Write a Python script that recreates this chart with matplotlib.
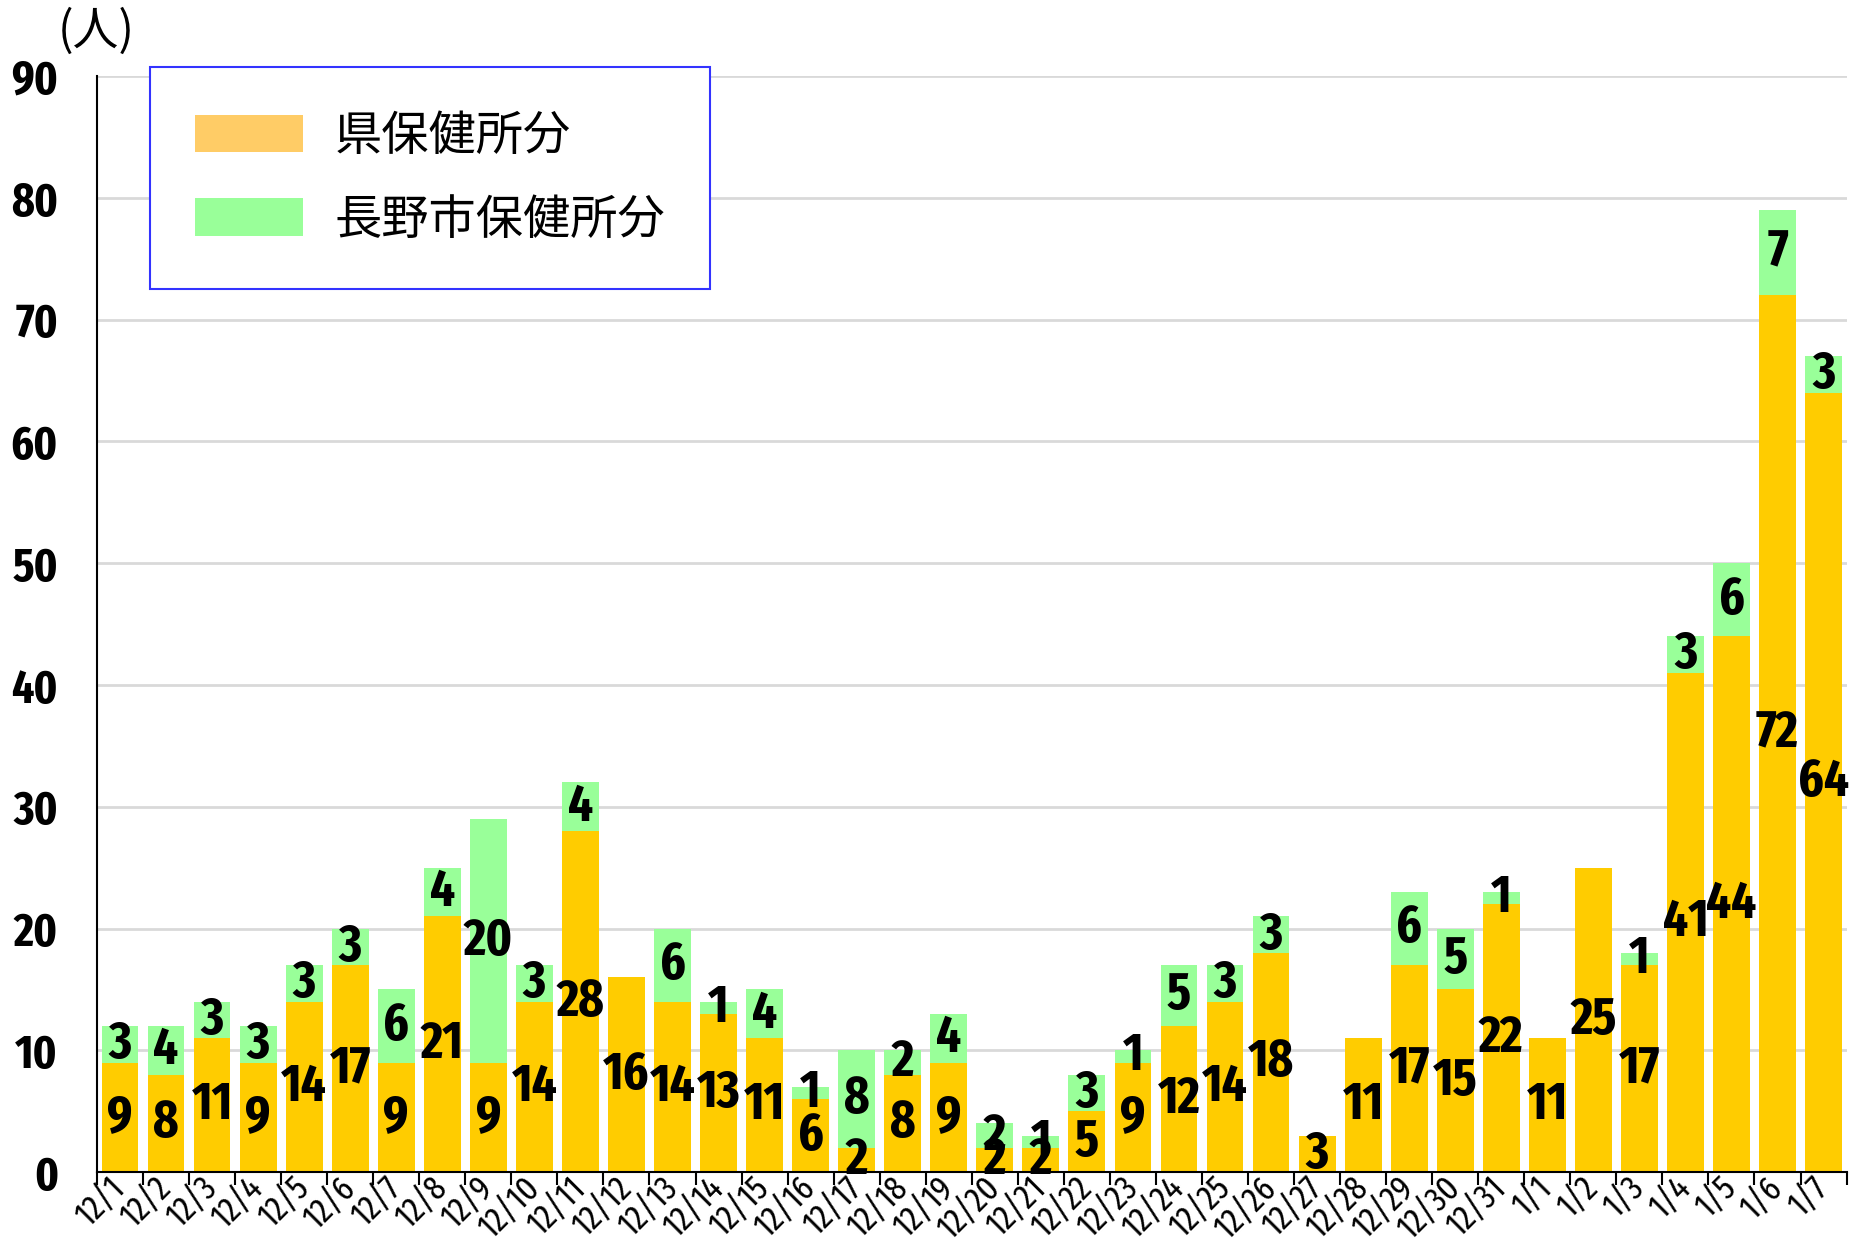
import numpy as np
import matplotlib
matplotlib.use("Agg")
import matplotlib.pyplot as plt
from matplotlib.patches import Patch

# ---------------------------------------------------------------
# data
# ---------------------------------------------------------------
dates = ['12/1', '12/2', '12/3', '12/4', '12/5', '12/6', '12/7', '12/8', '12/9',
         '12/10', '12/11', '12/12', '12/13', '12/14', '12/15', '12/16', '12/17',
         '12/18', '12/19', '12/20', '12/21', '12/22', '12/23', '12/24', '12/25',
         '12/26', '12/27', '12/28', '12/29', '12/30', '12/31',
         '1/1', '1/2', '1/3', '1/4', '1/5', '1/6', '1/7']
pref = [9, 8, 11, 9, 14, 17, 9, 21, 9, 14, 28, 16, 14, 13, 11, 6, 2, 8, 9, 2, 2,
        5, 9, 12, 14, 18, 3, 11, 17, 15, 22, 11, 25, 17, 41, 44, 72, 64]
nagano = [3, 4, 3, 3, 3, 3, 6, 4, 20, 3, 4, 0, 6, 1, 4, 1, 8, 2, 4, 2, 1,
          3, 1, 5, 3, 3, 0, 0, 6, 5, 1, 0, 0, 1, 3, 6, 7, 3]
legend_labels = ['県保健所分', '長野市保健所分']
y_ticks = [0, 10, 20, 30, 40, 50, 60, 70, 80, 90]

YELLOW = '#FFCC00'
GREEN = '#99FF99'
LEG_ORANGE = '#FFCC66'

NUM_FONT = ['Fira Sans Extra Condensed', 'Barlow Condensed', 'DejaVu Sans']
JP_FONT = ['Noto Sans CJK JP', 'DejaVu Sans']

fig = plt.figure(figsize=(18.54, 12.47), dpi=100)
ax = fig.add_axes([0.0523, 0.060, 0.9437, 0.879])

x = np.arange(len(dates))
pref_a = np.array(pref)
nag_a = np.array(nagano)
ax.bar(x, pref_a, width=0.8, color=YELLOW, zorder=2)
ax.bar(x, nag_a, width=0.8, bottom=pref_a, color=GREEN, zorder=2)

# value labels centred in each segment
for xi, p, n in zip(x, pref_a, nag_a):
    if p > 0:
        ax.text(xi, p / 2, str(p), ha='center', va='center', fontsize=38,
                family=NUM_FONT, fontweight='bold', fontstretch='condensed',
                zorder=3)
    if n > 0:
        ax.text(xi, p + n / 2, str(n), ha='center', va='center', fontsize=38,
                family=NUM_FONT, fontweight='bold', fontstretch='condensed',
                zorder=3)

ax.set_xlim(-0.5, len(dates) - 0.5)
ax.set_ylim(0, 90)
ax.set_yticks(y_ticks)
ax.set_yticklabels([str(v) for v in y_ticks], family=NUM_FONT,
                   fontweight='bold', fontstretch='condensed', fontsize=34)
ax.tick_params(axis='y', length=0, pad=28)
ax.grid(axis='y', color='#D9D9D9', linewidth=2, zorder=0)

# ticks at category boundaries, labels at centres
ax.set_xticks(np.arange(-0.5, len(dates)), minor=False)
ax.set_xticklabels([])
ax.tick_params(axis='x', which='major', length=9, width=1.5, direction='out')
ax.set_xticks(x, minor=True)
ax.set_xticklabels(dates, minor=True, rotation=45, ha='right', va='center',
                   rotation_mode='anchor', family=NUM_FONT,
                   fontstretch='condensed', fontsize=25)
ax.tick_params(axis='x', which='minor', length=0, pad=8)

for s in ['top', 'right']:
    ax.spines[s].set_visible(False)
ax.spines['left'].set_linewidth(1.5)
ax.spines['bottom'].set_linewidth(1.5)

fig.text(0.031, 0.975, '(人)', family=JP_FONT, fontsize=33, va='center')

handles = [Patch(facecolor=LEG_ORANGE, edgecolor='none'),
           Patch(facecolor=GREEN, edgecolor='none')]
leg = ax.legend(handles, legend_labels, loc='upper left',
                bbox_to_anchor=(0.0809, 0.946), bbox_transform=fig.transFigure,
                prop={'family': JP_FONT, 'size': 34}, frameon=True,
                fancybox=False, borderpad=0.95, labelspacing=0.75,
                borderaxespad=0, handlelength=2.3, handleheight=0.85,
                handletextpad=0.65)
leg.get_frame().set_edgecolor('#3333FF')
leg.get_frame().set_linewidth(1.5)
leg.get_frame().set_alpha(1)

fig.savefig('out.png', dpi=100)
